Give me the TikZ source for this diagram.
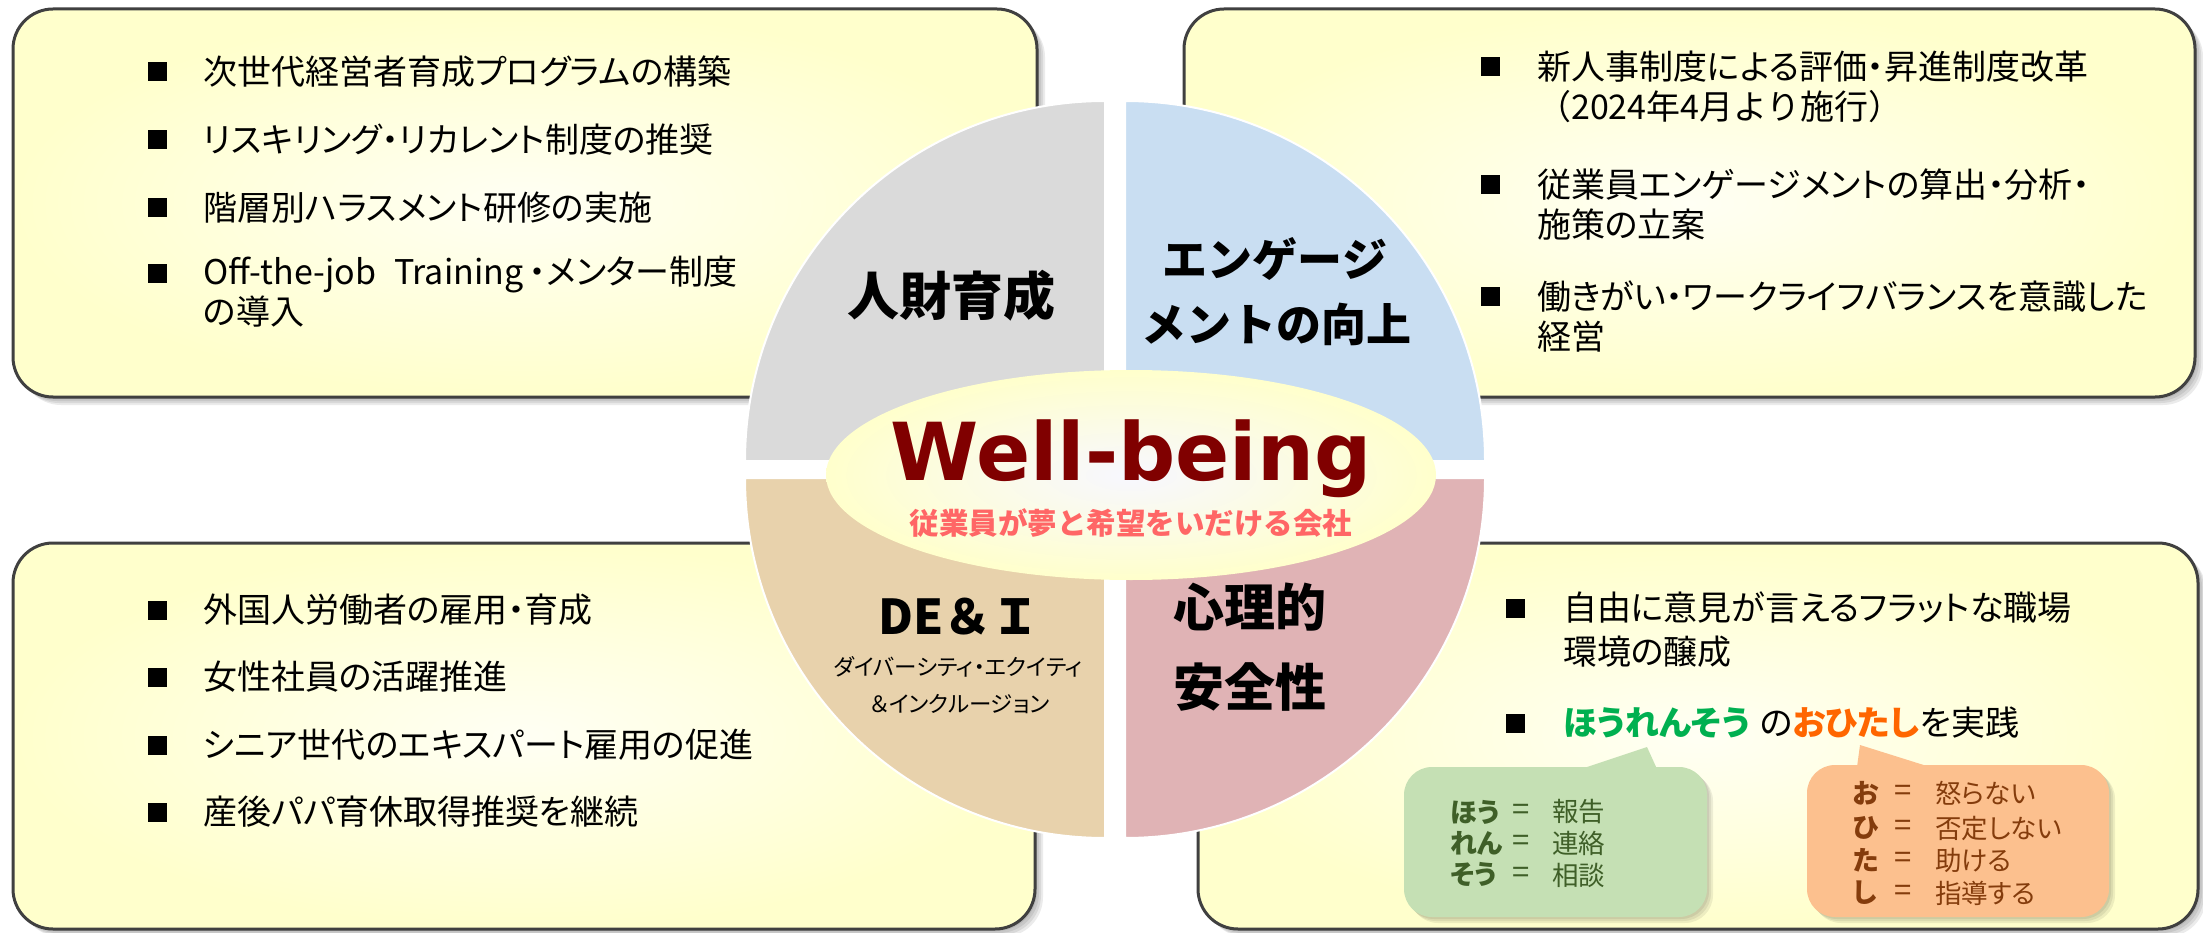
\documentclass[tikz,border=0pt]{standalone}
\usepackage{fontspec}
\newfontfamily\jp[RawFeature=+palt]{Noto Sans CJK JP}
\newfontfamily\jpn{Noto Sans CJK JP}
\newfontfamily\wbfont{DejaVu Sans}
\newcommand{\setfs}[1]{\fontsize{#1pt}{#1pt}\selectfont}
\definecolor{boxY}{HTML}{FFFFCC}
\definecolor{boxC}{HTML}{FFFFF4}
\definecolor{boxLine}{HTML}{404040}
\definecolor{qGray}{HTML}{DADADA}
\definecolor{qBlue}{HTML}{C9DEF2}
\definecolor{qTan}{HTML}{E8D2AC}
\definecolor{qPink}{HTML}{E0B3B5}
\definecolor{wbRed}{HTML}{800000}
\definecolor{subPink}{HTML}{FF6666}
\definecolor{hGreen}{HTML}{00B050}
\definecolor{hOrange}{HTML}{FF6600}
\definecolor{cGreen}{HTML}{C5E0B4}
\definecolor{cGreenT}{HTML}{3F5F28}
\definecolor{cOrange}{HTML}{FCC08E}
\definecolor{cOrangeT}{HTML}{843C0C}
\tikzset{
  boxtxt/.style={anchor=west, inner sep=0pt, font={\jp\setfs{34}}},
  boxtxtn/.style={anchor=west, inner sep=0pt, font={\jpn\setfs{34}}},
  bul/.style={fill=black, inner sep=0pt, minimum width=19pt, minimum height=19pt},
  qlabel/.style={inner sep=0pt, font={\jpn\bfseries\setfs{#1}}},
  gtxt/.style={anchor=west, inner sep=0pt, text=cGreenT, font={\jp\setfs{26.5}}},
  otxt/.style={anchor=west, inner sep=0pt, text=cOrangeT, font={\jp\setfs{26.5}}},
  eqg/.style={anchor=center, inner sep=0pt, text=cGreenT, font={\jpn\setfs{31}}},
  eqo/.style={anchor=center, inner sep=0pt, text=cOrangeT, font={\jpn\setfs{31}}},
}
\begin{document}
\begin{tikzpicture}[x=1pt,y=-1pt]
\useasboundingbox (0,0) rectangle (2203,933);
\fill[white] (0,0) rectangle (2203,933);
% boxes with shadows
\foreach \a/\b/\c/\d in {13/9/1037/397, 1184/9/2195/397, 13/543/1035/929, 1198/543/2198/929}{
  \foreach \o in {2,4,6,8}{
    \fill[black,opacity=0.08,rounded corners=40pt] (\a+\o,\b+\o) rectangle (\c+\o,\d+\o);
  }
  \shade[rounded corners=40pt, inner color=boxC, outer color=boxY] (\a,\b) rectangle (\c,\d);
  \draw[rounded corners=40pt, draw=boxLine, line width=3pt] (\a,\b) rectangle (\c,\d);
}
% quadrants
\filldraw[fill=qGray, draw=white, line width=2pt] (1105,461) -- ++(-360pt,0pt) arc[start angle=180, end angle=90, radius=360pt] -- cycle;
\filldraw[fill=qBlue, draw=white, line width=2pt] (1125,461) -- ++(0pt,360pt) arc[start angle=90, end angle=0, radius=360pt] -- cycle;
\filldraw[fill=qPink, draw=white, line width=2pt] (1125,478) -- ++(360pt,0pt) arc[start angle=0, end angle=-90, radius=360pt] -- cycle;
\filldraw[fill=qTan, draw=white, line width=2pt] (1105,478) -- ++(0pt,-360pt) arc[start angle=-90, end angle=-180, radius=360pt] -- cycle;
% center ellipse
\shade[inner color=white!95!blue!60!white, outer color=boxY] (1131,475) ellipse[x radius=305pt, y radius=105pt];
\node[inner sep=0pt, anchor=base, text=wbRed, font={\wbfont\bfseries\setfs{80}}] (wb) at (1131,480) {Well-being};
\node[inner sep=0pt, text=subPink, font={\jpn\bfseries\setfs{29.5}}] (wbsub) at (1131,523) {従業員が夢と希望をいだける会社};
% quadrant labels
\node[qlabel=52] (q1) at (951,296) {人財育成};
\node[qlabel=45] (q2a) at (1275,259) {エンゲージ};
\node[qlabel=45] (q2b) at (1276,324) {メントの向上};
\node[qlabel=48] (q3) at (959,617) {DE＆Ｉ};
\node[inner sep=0pt, font={\jp\setfs{22.5}}] (q3a) at (958,667) {ダイバーシティ・エクイティ};
\node[inner sep=0pt, font={\jp\setfs{22.5}}] (q3b) at (960,704) {＆インクルージョン};
\node[qlabel=51] (q4a) at (1250,607) {心理的};
\node[qlabel=51] (q4b) at (1250,687) {安全性};
% top-left box
\node[bul] (b11) at (157,72) {};
\node[boxtxt] (t11) at (203,72) {次世代経営者育成プログラムの構築};
\node[bul] (b12) at (157,140) {};
\node[boxtxt] (t12) at (203,140) {リスキリング・リカレント制度の推奨};
\node[bul] (b13) at (157,208) {};
\node[boxtxt] (t13) at (203,208) {階層別ハラスメント研修の実施};
\node[bul] (b14) at (157,274) {};
\node[boxtxt] (t14) at (203,274) {Off-the-job\hspace{18pt}Training\hspace{6pt}・メンター制度};
\node[boxtxt] (t14b) at (203,312) {の導入};
% top-right box
\node[bul] (b21) at (1490,67) {};
\node[boxtxt] (t21) at (1537,67) {新人事制度による評価・昇進制度改革};
\node[boxtxtn] (t21b) at (1537,107) {（2024年4月より施行）};
\node[bul] (b22) at (1490,185) {};
\node[boxtxt] (t22) at (1537,185) {従業員エンゲージメントの算出・分析・};
\node[boxtxt] (t22b) at (1537,225) {施策の立案};
\node[bul] (b23) at (1490,297) {};
\node[boxtxt] (t23) at (1537,297) {働きがい・ワークライフバランスを意識した};
\node[boxtxt] (t23b) at (1537,337) {経営};
% bottom-left box
\node[bul] (b31) at (157,610) {};
\node[boxtxt] (t31) at (203,610) {外国人労働者の雇用・育成};
\node[bul] (b32) at (157,677) {};
\node[boxtxt] (t32) at (203,677) {女性社員の活躍推進};
\node[bul] (b33) at (157,745) {};
\node[boxtxt] (t33) at (203,745) {シニア世代のエキスパート雇用の促進};
\node[bul] (b34) at (157,812) {};
\node[boxtxt] (t34) at (203,812) {産後パパ育休取得推奨を継続};
% bottom-right box
\node[bul] (b41) at (1515,608) {};
\node[boxtxt] (t41) at (1563,608) {自由に意見が言えるフラットな職場};
\node[boxtxt] (t41b) at (1563,652) {環境の醸成};
\node[bul] (b42) at (1515,723) {};
\node[boxtxt] (t42) at (1563,723) {{\color{hGreen}\bfseries ほうれんそう}\hspace{10pt}の{\color{hOrange}\bfseries おひたし}を実践};
% callouts
\foreach \o in {2,4,6}{
  \fill[black,opacity=0.07,rounded corners=28pt] (1404+\o,767+\o) rectangle (1707+\o,917+\o);
  \fill[black,opacity=0.07,rounded corners=28pt] (1807+\o,765+\o) rectangle (2109+\o,917+\o);
}
\fill[cGreen,rounded corners=28pt] (1404,767) rectangle (1707,917);
\fill[cGreen] (1581,769) -- (1647,747) -- (1657,769) -- cycle;
\fill[cOrange,rounded corners=28pt] (1807,765) rectangle (2109,917);
\fill[cOrange] (1857,767) -- (1860,745) -- (1930,767) -- cycle;
\node[gtxt, font={\jp\bfseries\setfs{27}}] (g1) at (1450,812) {ほう};
\node[eqg] (g1e) at (1521,812) {=};
\node[gtxt] (g1v) at (1552,812) {報告};
\node[gtxt, font={\jp\bfseries\setfs{27}}] (g2) at (1450,843) {れん};
\node[eqg] (g2e) at (1521,843) {=};
\node[gtxt] (g2v) at (1552,843) {連絡};
\node[gtxt, font={\jp\bfseries\setfs{27}}] (g3) at (1450,875) {そう};
\node[eqg] (g3e) at (1521,875) {=};
\node[gtxt] (g3v) at (1552,875) {相談};
\node[otxt, font={\jp\bfseries\setfs{27}}] (o1) at (1853,793) {お};
\node[eqo] (o1e) at (1903,793) {=};
\node[otxt] (o1v) at (1935,793) {怒らない};
\node[otxt, font={\jp\bfseries\setfs{27}}] (o2) at (1853,828) {ひ};
\node[eqo] (o2e) at (1903,828) {=};
\node[otxt] (o2v) at (1935,828) {否定しない};
\node[otxt, font={\jp\bfseries\setfs{27}}] (o3) at (1853,860) {た};
\node[eqo] (o3e) at (1903,860) {=};
\node[otxt] (o3v) at (1935,860) {助ける};
\node[otxt, font={\jp\bfseries\setfs{27}}] (o4) at (1853,893) {し};
\node[eqo] (o4e) at (1903,893) {=};
\node[otxt] (o4v) at (1935,893) {指導する};
\end{tikzpicture}
\end{document}
